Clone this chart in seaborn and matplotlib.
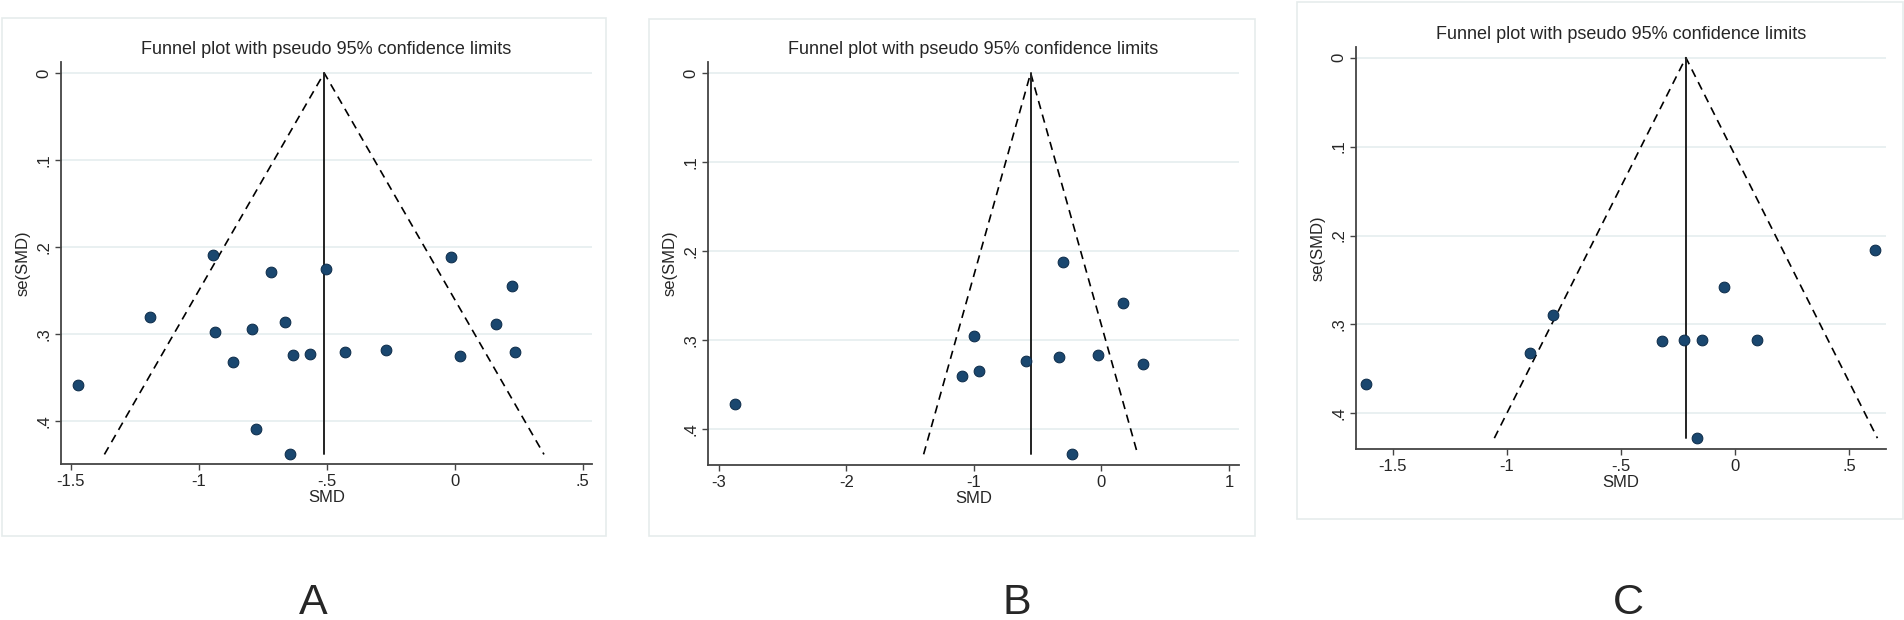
import matplotlib
matplotlib.use("Agg")
from matplotlib import pyplot as plt
from matplotlib.patches import Rectangle
import seaborn as sns
import pandas as pd

# panel A
smd_a = [-0.943, -0.719, -0.503, -0.016, -1.190, -1.470, -0.935, -0.791, -0.663, -0.867,
         -0.630, -0.565, -0.430, -0.267, 0.022, -0.777, -0.642, 0.160, 0.224, 0.237]
se_a = [0.209, 0.228, 0.225, 0.211, 0.280, 0.358, 0.298, 0.294, 0.2855, 0.3315,
        0.324, 0.3227, 0.320, 0.3177, 0.3246, 0.409, 0.438, 0.2886, 0.245, 0.3207]
pooled_a = -0.51

# panel B
smd_b = [-2.869, -0.998, -1.092, -0.961, -0.590, -0.336, -0.030, -0.229, -0.305, 0.171, 0.324]
se_b = [0.371, 0.295, 0.3405, 0.335, 0.3236, 0.319, 0.3165, 0.428, 0.2124, 0.2577, 0.3266]
pooled_b = -0.555

# panel C
smd_c = [-1.618, -0.898, -0.796, -0.319, -0.224, -0.144, -0.166, 0.614, -0.050, 0.097]
se_c = [0.367, 0.3326, 0.2888, 0.3188, 0.318, 0.3173, 0.4278, 0.2162, 0.2584, 0.3169]
pooled_c = -0.216

xticks_a = [-1.5, -1, -0.5, 0, 0.5]
xlabels_a = ["-1.5", "-1", "-.5", "0", ".5"]
xticks_b = [-3, -2, -1, 0, 1]
xlabels_b = ["-3", "-2", "-1", "0", "1"]
xticks_c = [-1.5, -1, -0.5, 0, 0.5]
xlabels_c = ["-1.5", "-1", "-.5", "0", ".5"]
yticks = [0, 0.1, 0.2, 0.3, 0.4]
ylabels = ["0", ".1", ".2", ".3", ".4"]

sns.set_style("white")
plt.rcParams['font.family'] = ['Liberation Sans', 'DejaVu Sans']

W, H = 1904, 620
fig = plt.figure(figsize=(W / 100, H / 100), dpi=100)


def px_rect(l, t, r, b):
    return [l / W, 1 - b / H, (r - l) / W, (b - t) / H]


panels = [
    dict(smd=smd_a, se=se_a, pooled=pooled_a, xt=xticks_a, xl=xlabels_a,
         ax=(61, 62, 592, 464), xlim=(-1.538, 0.536), ylim=(0.449, -0.0126),
         frame=(2, 18, 606, 536), letter="A", lx=313),
    dict(smd=smd_b, se=se_b, pooled=pooled_b, xt=xticks_b, xl=xlabels_b,
         ax=(708, 62, 1239, 465), xlim=(-3.084, 1.078), ylim=(0.440, -0.0124),
         frame=(649, 19, 1255, 536), letter="B", lx=1017),
    dict(smd=smd_c, se=se_c, pooled=pooled_c, xt=xticks_c, xl=xlabels_c,
         ax=(1356, 47, 1886, 449), xlim=(-1.660, 0.660), ylim=(0.440, -0.012),
         frame=(1297, 2, 1903, 519), letter="C", lx=1628),
]

for p in panels:
    l, t, r, b = p["frame"]
    fig.add_artist(Rectangle((l / W, 1 - b / H), (r - l) / W, (b - t) / H,
                             transform=fig.transFigure, fill=False,
                             edgecolor="#e6ecec", linewidth=1.2))

    ax = fig.add_axes(px_rect(*p["ax"]))
    df = pd.DataFrame({"SMD": p["smd"], "se": p["se"]})

    # funnel: pooled estimate +/- 1.96 se down to the largest se
    se_max = max(p["se"])
    m = p["pooled"]
    ax.plot([m - 1.96 * se_max, m, m + 1.96 * se_max], [se_max, 0, se_max],
            color="black", linestyle=(0, (5, 3.5)), linewidth=1.2, zorder=2)
    ax.plot([m, m], [0, se_max], color="#222222", linewidth=1.4, zorder=2)

    sns.scatterplot(data=df, x="SMD", y="se", ax=ax, s=60, color="#1a476f",
                    edgecolor="#0b2a48", linewidth=0.7, zorder=3)

    ax.set_xlim(*p["xlim"])
    ax.set_ylim(*p["ylim"])
    ax.set_xticks(p["xt"])
    ax.set_xticklabels(p["xl"], fontsize=12)
    ax.set_yticks(yticks)
    ax.set_yticklabels(ylabels, fontsize=12, rotation=90, va="center")
    ax.grid(axis="y", color="#e9f0f1", linewidth=1.4)
    ax.set_axisbelow(True)
    for s in ["top", "right"]:
        ax.spines[s].set_visible(False)
    for s in ["left", "bottom"]:
        ax.spines[s].set_color("#444444")
        ax.spines[s].set_linewidth(1.3)
    ax.tick_params(axis="both", direction="out", length=4, width=1, color="#444444",
                   left=True, bottom=True, pad=3)
    ax.set_xlabel("SMD", fontsize=12, labelpad=1)
    ax.set_ylabel("se(SMD)", fontsize=12, labelpad=4)
    ax.set_title("Funnel plot with pseudo 95% confidence limits", fontsize=13, pad=6)

    fig.text(p["lx"] / W, 1 - 603 / H, p["letter"], fontsize=31,
             ha="center", va="center")

fig.savefig("out.png", dpi=100, facecolor="white")
